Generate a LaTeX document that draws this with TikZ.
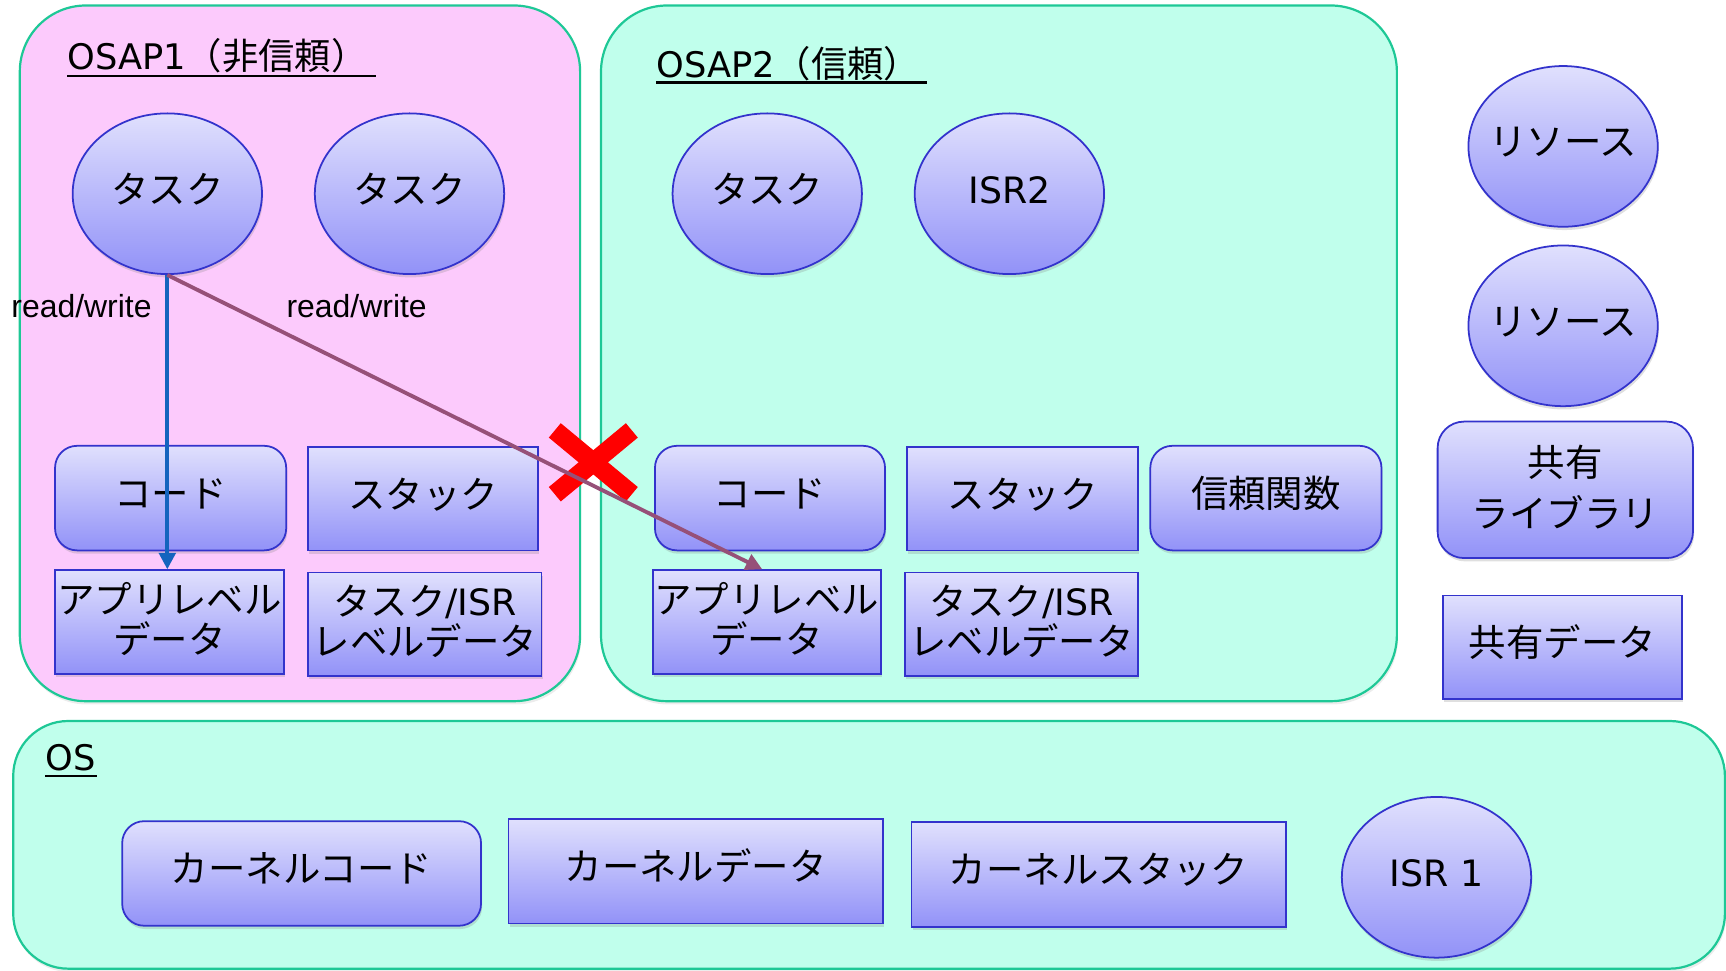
\documentclass[tikz,border=0pt]{standalone}
\usepackage{fontspec}
\setmainfont{Noto Sans CJK JP}
\newfontfamily\dv[Scale=0.97]{DejaVu Sans}
\newfontfamily\arialf{Liberation Sans}
\usetikzlibrary{shapes.geometric,shadows,arrows.meta}
\definecolor{gtop}{RGB}{224,224,253}
\definecolor{gbot}{RGB}{146,146,248}
\definecolor{boxblue}{RGB}{51,51,204}
\definecolor{teal}{RGB}{30,200,150}
\definecolor{pinkfill}{RGB}{252,202,252}
\definecolor{aquafill}{RGB}{192,255,236}
\definecolor{arrblue}{RGB}{20,100,190}
\definecolor{arrpurp}{RGB}{150,80,120}
\newcommand{\twolines}[3]{\raisebox{#3}{\renewcommand{\arraystretch}{0.65}\begin{tabular}{@{}c@{}}#1\\#2\end{tabular}}}
\begin{document}
\begin{tikzpicture}[x=1pt,y=-1pt,
  container/.style={draw=teal, line width=2pt, rounded corners=#1,
    drop shadow={opacity=0.15, shadow xshift=1pt, shadow yshift=-3pt}},
  item/.style={draw=boxblue, line width=1.6pt, top color=gtop, bottom color=gbot,
    inner sep=0pt, align=center, font=\fontsize{34}{36}\selectfont,
    drop shadow={opacity=0.25, shadow xshift=1pt, shadow yshift=-3pt}},
  one/.style={text height=28pt, text depth=11pt},
  sqbox/.style={item, rectangle, minimum width=#1, minimum height=94pt},
  rbox/.style={item, one, rectangle, rounded corners=20pt, minimum width=#1, minimum height=95pt},
  oval/.style={item, one, ellipse, minimum width=172pt, minimum height=146pt},
  title/.style={anchor=base west, inner sep=0pt, font=\fontsize{33}{36}\selectfont},
  rw/.style={inner sep=0pt, font=\arialf\fontsize{29}{30}\selectfont},
  uline/.style={line width=2pt},
  arr/.style={line width=3.5pt, -{Triangle[length=15pt,width=15pt]}}
]
\useasboundingbox (0,0) rectangle (1568,882);

% containers
\path[container=60pt, fill=pinkfill] (18,5) rectangle (527,637);
\path[container=60pt, fill=aquafill] (546,5) rectangle (1269,637);
\path[container=50pt, fill=aquafill] (12,655) rectangle (1567,880);

% titles
\node[title] (lbl1) at (61,63) {{\dv OSAP1}（非信頼）};
\draw[uline] ([yshift=-6pt]lbl1.base west) -- ++(281,0);
\node[title] (lbl2) at (596,70) {{\dv OSAP2}（信頼）};
\draw[uline] ([yshift=-5pt]lbl2.base west) -- ++(246,0);
\node[title] (lblos) at (41,700) {{\dv OS}};
\draw[uline] ([yshift=-5pt]lblos.base west) -- ++(47,0);

% OSAP1
\node[oval] (t1) at (152,176) {タスク};
\node[oval] (t2) at (372,176) {タスク};
\node[rbox=210pt] (code1) at (155,452.5) {コード};
\node[sqbox=209pt, one] (stack1) at (384.5,453) {スタック};
\node[sqbox=208pt] (app1) at (154,565) {\twolines{アプリレベル}{データ}{5.5pt}};
\node[sqbox=212pt] (tisr1) at (386,567) {\twolines{タスク{\dv /ISR}}{レベルデータ}{5.5pt}};

% OSAP2
\node[oval] (t3) at (697,176) {タスク};
\node[oval] (isr2) at (917,176) {\dv ISR2};
\node[rbox=209pt] (code2) at (699.5,452.5) {コード};
\node[sqbox=210pt, one] (stack2) at (929,453) {スタック};
\node[rbox=210pt] (trust) at (1150,452.5) {信頼関数};
\node[sqbox=207pt] (app2) at (696.5,565) {\twolines{アプリレベル}{データ}{5.5pt}};
\node[sqbox=212pt] (tisr2) at (928,567) {\twolines{タスク{\dv /ISR}}{レベルデータ}{5.5pt}};

% shared
\node[oval] (r1) at (1420,133) {\makebox[0pt]{リソース}};
\node[oval] (r2) at (1420,296) {\makebox[0pt]{リソース}};
\node[item, rectangle, rounded corners=24pt, minimum width=232pt, minimum height=124pt] (lib) at (1422,445)
  {\twolines{共有}{\rule{0pt}{39pt}ライブラリ}{7pt}};
\node[sqbox=217pt, one] (shdata) at (1419.5,588) {共有データ};

% OS
\node[rbox=326pt] (kcode) at (274,793.5) {カーネルコード};
\node[sqbox=340pt, one, minimum height=95pt] (kdata) at (632,791.5) {カーネルデータ};
\node[sqbox=340pt, one, minimum height=95pt] (kstack) at (998,794.5) {カーネルスタック};
\node[oval] (isr1) at (1305,797) {\dv ISR 1};

% red cross
\coordinate (xc) at (539,420);
\draw[red, line width=17pt] ([shift={(-35,-29)}]xc) -- ([shift={(35,29)}]xc);
\draw[red, line width=17pt] ([shift={(35,-29)}]xc) -- ([shift={(-35,29)}]xc);

% arrows
\draw[arr, draw=arrblue, fill=arrblue] (t1.south) -- (t1.south |- app1.north);
\draw[arr, draw=arrpurp, fill=arrpurp] (t1.south) -- ([xshift=-4pt]app2.north);

% labels
\node[rw] (rw1) at (74,278) {read/write};
\node[rw] (rw2) at (324,278) {read/write};
\end{tikzpicture}
\end{document}
